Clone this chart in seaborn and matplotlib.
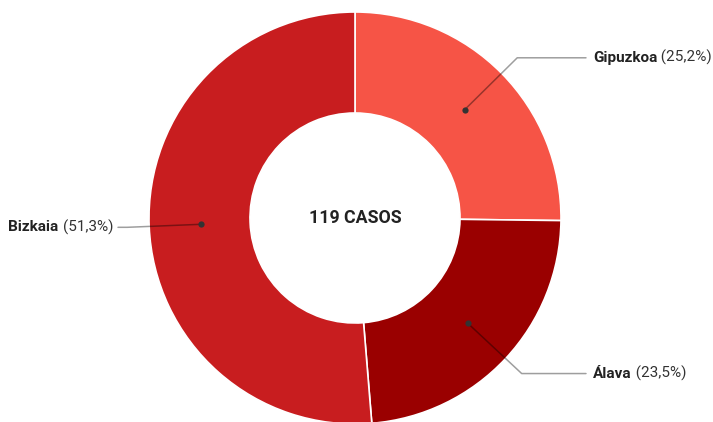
import numpy as np
import matplotlib.pyplot as plt
import seaborn as sns

# datos
provincias = ["Gipuzkoa", "Álava", "Bizkaia"]
porcentajes = [25.2, 23.5, 51.3]
etiquetas_pct = ["(25,2%)", "(23,5%)", "(51,3%)"]
colores = ["#F65446", "#9A0000", "#C81D1F"]
total_casos = "119 CASOS"

sns.set_theme(style="white")
plt.rcParams['font.family'] = ['Roboto', 'DejaVu Sans']

W, H = 713, 422
fig = plt.figure(figsize=(W / 100, H / 100), dpi=100)
ax = fig.add_axes([0, 0, 1, 1])

cx, cy = 355, H - 218
R = 206
pal = sns.color_palette(colores)
wedges, _ = ax.pie(porcentajes, colors=pal, startangle=90, counterclock=False,
                   radius=R, center=(cx, cy),
                   wedgeprops=dict(width=101, edgecolor='white', linewidth=1.2))

ax.set_xlim(0, W)
ax.set_ylim(0, H)
ax.set_aspect('equal')
ax.axis('off')

ax.text(cx, cy, total_casos, ha='center', va='center', fontsize=12.8,
        fontweight='bold', color='#222222')

# etiquetas con lineas guia
fs = 11
for w, nombre, pct in zip(wedges, provincias, etiquetas_pct):
    ang = np.deg2rad((w.theta1 + w.theta2) / 2)
    px, py = cx + 154 * np.cos(ang), cy + 154 * np.sin(ang)
    ex, ey = cx + 228 * np.cos(ang), cy + 228 * np.sin(ang)
    if np.cos(ang) > 0:
        hx, tx, ha = 586, 593, 'left'
    else:
        hx, tx, ha = 118, 113, 'right'
    ax.plot([px, ex, hx], [py, ey, ey], color='black', alpha=0.38, lw=1.1)
    ax.plot(px, py, 'o', color='#333333', ms=4.5, mec='none')
    if ha == 'left':
        t = ax.text(tx, ey, nombre, ha='left', va='center', fontsize=fs,
                    fontweight='bold', color='#222222')
        ax.annotate(" " + pct, xy=(1, 0.5), xycoords=t, ha='left', va='center',
                    fontsize=fs, color='#333333')
    else:
        t = ax.text(tx, ey, pct, ha='right', va='center', fontsize=fs,
                    color='#333333')
        ax.annotate(nombre + " ", xy=(0, 0.5), xycoords=t, ha='right', va='center',
                    fontsize=fs, fontweight='bold', color='#222222')

fig.savefig("out.png", dpi=100)
